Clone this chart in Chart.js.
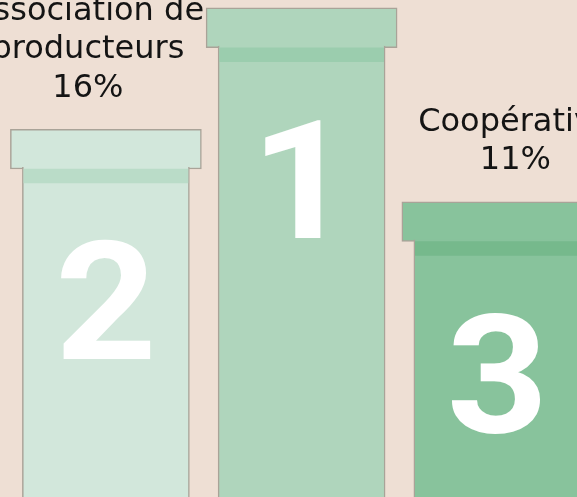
<!DOCTYPE html>
<html>
<head>
<meta charset="utf-8">
<script src="https://cdn.jsdelivr.net/npm/chart.js@4"></script>
<style>
  html, body { margin: 0; padding: 0; background: #eedfd4; }
  #wrap { width: 577px; height: 497px; }
</style>
</head>
<body>
<div id="wrap"><canvas id="podium" width="577" height="497"></canvas></div>
<script>
// podium positions, left to right
const ranks = ['2', '1', '3'];
const names = [['Association de', 'producteurs'], [], ['Coopérative']]; // 1st place label sits above the crop
const shares = [16, null, 11];
const podiumTops = [74, 98.4, 59.4];

const CAP_DEPTH = 8;
const BAND_DEPTH = 2.8;
const FILLS = ['#d2e7db', '#afd5bc', '#88c39c'];
const BANDS = ['#badcc8', '#9bcdae', '#76b98c'];
const OUTLINE = '#a9a398';

const capData = podiumTops.map((top, i) => ({ x: i, y: [top - CAP_DEPTH, top] }));
const bodyData = podiumTops.map((top, i) => ({ x: i, y: [0, top - CAP_DEPTH + 0.4] }));
const bandData = podiumTops.map((top, i) => ({ x: i, y: [top - CAP_DEPTH - BAND_DEPTH, top - CAP_DEPTH] }));

const podiumText = {
  id: 'podiumText',
  afterDatasetsDraw(chart) {
    const { ctx } = chart;
    const caps = chart.getDatasetMeta(2).data;
    ctx.save();
    caps.forEach((cap, i) => {
      // big rank number, widened to look like the geometric original
      ctx.save();
      ctx.translate(cap.x, cap.y + 230);
      ctx.scale(1.07, 1);
      ctx.fillStyle = '#ffffff';
      ctx.font = '700 166px Roboto';
      ctx.textAlign = 'center';
      ctx.textBaseline = 'alphabetic';
      ctx.fillText(ranks[i], 0, 0);
      ctx.restore();

      if (shares[i] == null) return;
      const lines = names[i].concat([shares[i] + '%']);
      ctx.fillStyle = '#141414';
      ctx.font = '32px "DejaVu Sans"';
      ctx.textAlign = 'center';
      ctx.textBaseline = 'alphabetic';
      const shift = (i - 1) * 18;
      lines.forEach((line, k) => {
        const y = cap.y - 32.5 - (lines.length - 1 - k) * 38.5;
        ctx.fillText(line, cap.x + shift, y);
      });
    });
    ctx.restore();
  },
};

new Chart(document.getElementById('podium'), {
  type: 'bar',
  data: {
    datasets: [
      { data: bandData, backgroundColor: BANDS, borderWidth: 0, barThickness: 164 },
      {
        data: bodyData,
        backgroundColor: FILLS,
        borderColor: OUTLINE,
        borderWidth: { left: 1.5, right: 1.5, top: 0, bottom: 0 },
        borderSkipped: false,
        barThickness: 167,
      },
      {
        data: capData,
        backgroundColor: FILLS,
        borderColor: OUTLINE,
        borderWidth: 1.5,
        borderSkipped: false,
        barThickness: 191,
      },
    ],
  },
  options: {
    responsive: false,
    animation: false,
    layout: { padding: 0 },
    datasets: { bar: { grouped: false } },
    scales: {
      x: { type: 'linear', display: false, offset: false, min: -0.541, max: 2.407 },
      y: { display: false, min: 0, max: 100 },
    },
    plugins: {
      legend: { display: false },
      tooltip: { enabled: false },
    },
  },
  plugins: [podiumText],
});
</script>
</body>
</html>
